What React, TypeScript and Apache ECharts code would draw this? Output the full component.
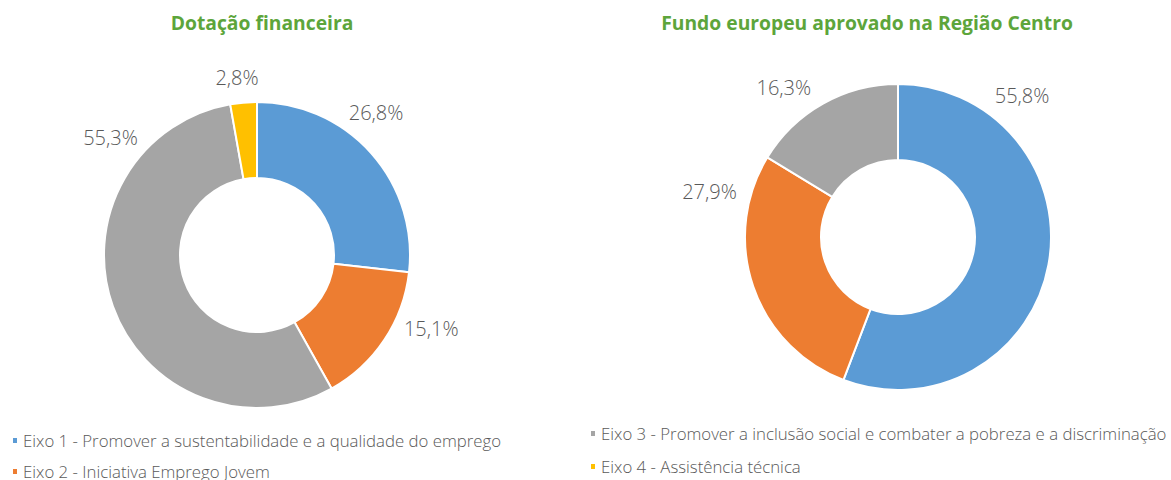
import React, { useEffect, useRef } from "react";
import * as echarts from "echarts";

const categories = [
  "Eixo 1 - Promover a sustentabilidade e a qualidade do emprego",
  "Eixo 2 - Iniciativa Emprego Jovem",
  "Eixo 3 - Promover a inclusão social e combater a pobreza e a discriminação",
  "Eixo 4 - Assistência técnica",
];
const dotacaoValues = [26.8, 15.1, 55.3, 2.8];
const fundoValues = [55.8, 27.9, 16.3];
const titles = ["Dotação financeira", "Fundo europeu aprovado na Região Centro"];

const colors = ["#5B9BD5", "#ED7D31", "#A5A5A5", "#FFC000"];

// label placement style (polar: angle clockwise from top in degrees, distance from centre in px)
const labelAnglesLeft = [39.8, 112.8, 308.8, 353.6];
const labelDistLeft = [186, 189, 188, 179];
const labelAnglesRight = [41.3, 283.7, 322.6];
const labelDistRight = [188, 194, 188];

const centers = [
  [257, 255],
  [898, 237],
];

const fontFamily = "'Open Sans', Lato, sans-serif";
const textGray = "#595959";

function fmt(v: number) {
  return v.toFixed(1).replace(".", ",") + "%";
}

export default function App() {
  const ref = useRef<HTMLDivElement>(null);
  useEffect(() => {
    if (!ref.current) return;
    const chart = echarts.init(ref.current, undefined, { renderer: "svg" });
    const makeLayout = (ci: number, angles: number[], dists: number[]) => (params: any) => {
      const a = (angles[params.dataIndex] * Math.PI) / 180;
      const d = dists[params.dataIndex];
      return {
        x: centers[ci][0] + d * Math.sin(a),
        y: centers[ci][1] - d * Math.cos(a),
        align: "center",
        verticalAlign: "middle",
      };
    };
    const mkData = (vals: number[]) =>
      vals.map((v, i) => ({ name: categories[i], value: v, itemStyle: { color: colors[i] } }));
    const legendText = { color: textGray, fontSize: 16.8, fontWeight: 300, fontFamily, lineHeight: 17 };
    const labelStyle = {
      show: true,
      formatter: (p: any) => fmt(p.value),
      color: textGray,
      fontSize: 20,
      fontWeight: 300,
      fontFamily,
      overflow: "none",
      alignTo: "none",
      edgeDistance: 0,
      bleedMargin: 0,
    };
    const titleStyle = { color: "#5DA53B", fontSize: 19.3, fontWeight: "bold", fontFamily };
    chart.setOption({
      animation: false,
      textStyle: { fontFamily },
      title: [
        {
          text: titles[0],
          left: 257,
          top: 17,
          textAlign: "center",
          textVerticalAlign: "middle",
          textStyle: titleStyle,
        },
        {
          text: titles[1],
          left: 862,
          top: 17,
          textAlign: "center",
          textVerticalAlign: "middle",
          textStyle: titleStyle,
        },
      ],
      legend: [
        {
          data: [categories[0], categories[1]],
          orient: "vertical",
          left: 6,
          top: 427,
          height: 200,
          itemWidth: 6,
          itemHeight: 7,
          itemGap: 14,
          icon: "rect",
          textStyle: legendText,
        },
        {
          data: [categories[2], categories[3]],
          orient: "vertical",
          left: 584,
          top: 420,
          height: 200,
          itemWidth: 6,
          itemHeight: 7,
          itemGap: 16,
          icon: "rect",
          textStyle: legendText,
        },
      ],
      series: [
        {
          type: "pie",
          center: centers[0],
          radius: [77, 153],
          startAngle: 90,
          clockwise: true,
          data: mkData(dotacaoValues),
          itemStyle: { borderColor: "#fff", borderWidth: 2 },
          label: labelStyle,
          labelLine: { show: false },
          labelLayout: makeLayout(0, labelAnglesLeft, labelDistLeft),
          emphasis: { disabled: true },
        },
        {
          type: "pie",
          center: centers[1],
          radius: [77, 153],
          startAngle: 90,
          clockwise: true,
          data: mkData(fundoValues),
          itemStyle: { borderColor: "#fff", borderWidth: 2 },
          label: labelStyle,
          labelLine: { show: false },
          labelLayout: makeLayout(1, labelAnglesRight, labelDistRight),
          emphasis: { disabled: true },
        },
      ],
    });
    return () => chart.dispose();
  }, []);
  return (
    <div
      ref={ref}
      style={{ position: "fixed", left: 0, top: 0, width: 1171, height: 480, background: "#fff" }}
    />
  );
}
